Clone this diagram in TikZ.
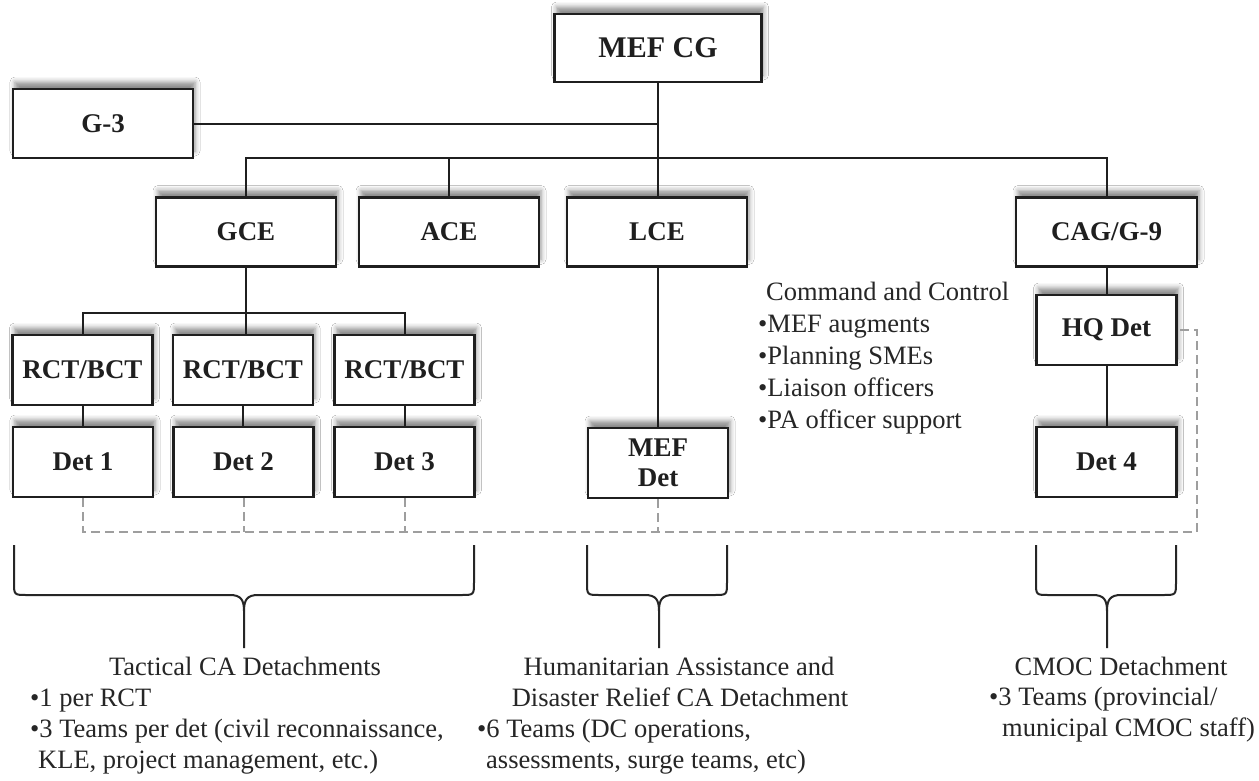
\documentclass[tikz,border=0pt]{standalone}
\usepackage{fontspec}
\setmainfont{Liberation Serif}
\usetikzlibrary{shadows.blur}

\newcommand\cbrace[4]{% name, left x, tip x, right x
  \draw[brace] (#2,545) -- (#2,582) .. controls (#2,595) .. (#2+13,595)
    -- (#3-14,595) .. controls (#3-3,595) and (#3,600) .. (#3,611) -- (#3,648);
  \draw[brace] (#4,545) -- (#4,582) .. controls (#4,595) .. (#4-13,595)
    -- (#3+14,595) .. controls (#3+3,595) and (#3,600) .. (#3,611);
  \coordinate (#1) at (#3,648);
}

\begin{document}
\begin{tikzpicture}[x=1pt,y=-1pt,
  box/.style={draw=black!88, line width=2.5pt, fill=white, inner sep=0pt,
    align=center, text=black!88,
    font=\bfseries\fontsize{27}{30}\selectfont,
    blur shadow={shadow xshift=2pt, shadow yshift=7pt,
      shadow blur radius=5pt, shadow opacity=45}},
  wide/.style={box, minimum width=180pt, minimum height=69pt},
  small/.style={box, minimum width=140pt, minimum height=70pt},
  link/.style={draw=black!88, line width=2pt},
  dashlink/.style={draw=black!38, line width=2pt, dash pattern=on 9pt off 5pt},
  brace/.style={draw=black!85, line width=2pt},
  txt/.style={inner sep=0pt, text=black!85, font=\fontsize{26.5}{32}\selectfont}]

  \fill[white] (0,0) rectangle (1259,780);
  \useasboundingbox (0,0) rectangle (1259,780);

  % command element
  \node[box, minimum width=207pt, minimum height=68pt,
        font=\bfseries\fontsize{30}{34}\selectfont] (mef) at (658,48) {MEF CG};
  \node[wide] (g3) at (103,123.5) {G-3};

  % major subordinate elements
  \node[wide] (gce) at (246,232) {GCE};
  \node[wide] (ace) at (449,232) {ACE};
  \node[wide] (lce) at (657,232) {LCE};
  \node[wide, minimum width=181pt] (cag) at (1106.5,232) {CAG/G-9};

  % regiments / brigades
  \node[small] (rct1) at (82.5,370) {RCT/BCT};
  \node[small] (rct2) at (243,370) {RCT/BCT};
  \node[small] (rct3) at (404.5,370) {RCT/BCT};

  % detachments
  \node[small] (det1) at (83,462) {Det 1};
  \node[small] (det2) at (243.5,462) {Det 2};
  \node[small] (det3) at (404.5,462) {Det 3};
  \node[small] (mefdet) at (658,463) {MEF\\Det};
  \node[small] (hq) at (1106.5,330) {HQ Det};
  \node[small] (det4) at (1106.5,462) {Det 4};

  % solid command lines
  \coordinate (bus) at (658,158);
  \coordinate (subbus) at (245,313);
  \draw[link] (mef.south) -- (mef.south |- lce.north);
  \draw[link] (g3.east) -- (g3.east -| mef.south);
  \draw[link] (gce.north) -- (gce.north |- bus) -- (cag.north |- bus) -- (cag.north);
  \draw[link] (ace.north) -- (ace.north |- bus);
  \draw[link] (gce.south) -- (gce.south |- rct2.north);
  \draw[link] (rct1.north) -- (rct1.north |- subbus) -- (rct3.north |- subbus) -- (rct3.north);
  \draw[link] (rct1.south) -- (rct1.south |- det1.north);
  \draw[link] (rct2.south) -- (rct2.south |- det2.north);
  \draw[link] (rct3.south) -- (rct3.south |- det3.north);
  \draw[link] (mef.south |- lce.south) -- (mef.south |- mefdet.north);
  \draw[link] (cag.south) -- (hq.north);
  \draw[link] (hq.south) -- (det4.north);

  % dashed coordination line
  \coordinate (dl) at (0,532);
  \coordinate (dr) at (1197,532);
  \draw[dashlink] (det1.south) -- (det1.south |- dl) -- (dr) -- (dr |- hq.east) -- (hq.east);
  \draw[dashlink] (det2.south) -- (det2.south |- dl);
  \draw[dashlink] (det3.south) -- (det3.south |- dl);
  \draw[dashlink] (mefdet.south) -- (mefdet.south |- dl);

  % command and control note
  \node[txt, anchor=north west, align=left] (c2) at (758,282)
    {\hspace{8pt}Command and Control\\•MEF augments\\•Planning SMEs\\•Liaison officers\\•PA officer support};

  % braces
  \cbrace{tipA}{14}{244}{474}
  \cbrace{tipB}{587}{659}{727}
  \cbrace{tipC}{1036}{1107}{1176}

  % tactical detachments
  \node[txt, anchor=base] (tacA) at (245,675) {Tactical CA Detachments};
  \node[txt, anchor=base west] (tacB) at (30,706) {•1 per RCT};
  \node[txt, anchor=base west] (tacC) at (30,737) {•3 Teams per det (civil reconnaissance,};
  \node[txt, anchor=base west] (tacD) at (38,768) {KLE, project management, etc.)};

  % humanitarian assistance detachment
  \node[txt, anchor=base] (haA) at (679,675) {Humanitarian Assistance and};
  \node[txt, anchor=base] (haB) at (680,706) {Disaster Relief CA Detachment};
  \node[txt, anchor=base west] (haC) at (477,737) {•6 Teams (DC operations,};
  \node[txt, anchor=base west] (haD) at (486,768) {assessments, surge teams, etc)};

  % CMOC detachment
  \node[txt, anchor=base] (cmA) at (1121,675) {CMOC Detachment};
  \node[txt, anchor=base west] (cmB) at (989,705) {•3 Teams (provincial/};
  \node[txt, anchor=base west] (cmC) at (1002,736) {municipal CMOC staff)};
\end{tikzpicture}
\end{document}
